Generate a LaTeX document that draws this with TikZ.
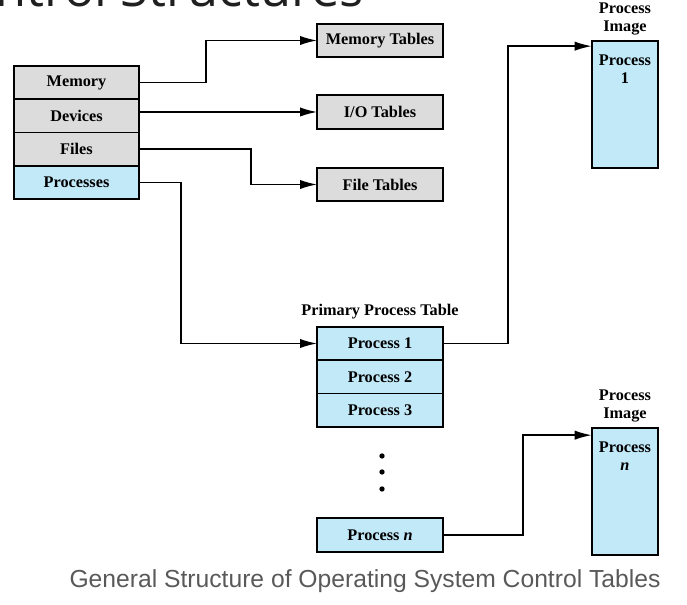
\documentclass[tikz,border=0pt]{standalone}
\usepackage{fontspec}
\setmainfont{Liberation Serif}
\newfontfamily\slidefont{Open Sans}
\newfontfamily\captionfont{Liberation Sans}
\usepackage{tikz}
\usetikzlibrary{arrows.meta}
\usetikzlibrary{positioning}
\usetikzlibrary{calc}
\definecolor{cellgray}{HTML}{DCDCDC}
\definecolor{cellblue}{HTML}{C2E9F8}
\definecolor{captiongray}{HTML}{595959}
\definecolor{titlegray}{HTML}{202020}
\tikzset{>={Latex[length=13pt,width=7pt]}}
\newcommand\cellwidth{94pt}
\newcommand\cellheight{25pt}
\tikzset{
    cell/.style={draw, line width=1.4pt, outer sep=0pt, minimum width=\cellwidth, minimum height=\cellheight, inner sep=0pt, font=\fontsize{12.2}{13.5}\selectfont\bfseries, node distance=0pt},
    graycell/.style={cell, fill=cellgray},
    bluecell/.style={cell, fill=cellblue},
    imagebox/.style={draw, line width=1.4pt, outer sep=0pt, fill=cellblue, minimum width=49.5pt, minimum height=95pt, inner sep=0pt},
    heading/.style={font=\fontsize{12.2}{14}\selectfont\bfseries, align=center, inner sep=0pt},
    link/.style={->, line width=1.4pt},
    dot/.style={circle, fill, inner sep=0pt, minimum size=4pt},
}

\begin{document}
\begin{tikzpicture}[x=0.75pt,y=-0.75pt]
    \useasboundingbox (0,0) rectangle (687,605);
    \begin{scope}
        \clip (0,0) rectangle (687,605);
        \node(title)[font=\slidefont\fontsize{38}{38}\selectfont, text=titlegray, anchor=base east, inner sep=0pt] at (364,7){Control Structures};
    \end{scope}
    \node(memory)[graycell] at (76.5,82.5){Memory};
    \node(devices)[graycell, below=of memory]{Devices};
    \node(files)[graycell, below=of devices]{Files};
    \node(processes)[bluecell, below=of files]{Processes};
    \node(memtab)[graycell] at (380,40.5){Memory Tables};
    \node(iotab)[graycell] at (380,112){I/O Tables};
    \node(filetab)[graycell] at (380,184.5){File Tables};
    \node(proc1)[bluecell] at (380,343.5){Process 1};
    \node(proc2)[bluecell, below=of proc1]{Process 2};
    \node(proc3)[bluecell, below=of proc2]{Process 3};
    \node(ptablabel)[heading, above=6pt of proc1]{Primary Process Table};
    \foreach \y [count=\i] in {456,472,489}
        \node(dot\i)[dot] at (382,\y){};
    \node(procn)[bluecell] at (380,535){Process \textit{n}};
    \node(img1)[imagebox] at (625,104.5){};
    \node(img1head)[heading, above=4pt of img1]{Process\\Image};
    \node(img1text)[heading, anchor=north] at ($(img1.north)+(0,13)$){Process\\1};
    \node(imgn)[imagebox] at (625,491.5){};
    \node(imgnhead)[heading, above=4pt of imgn]{Process\\Image};
    \node(imgntext)[heading, anchor=north] at ($(imgn.north)+(0,13)$){Process\\\textit{n}};
    \draw[link] (memory.east) -- ++(67,0) |- (memtab.west);
    \draw[link] (iotab.west -| devices.east) -- (iotab.west);
    \draw[link] (files.east) -- ++(112,0) |- (filetab.west);
    \draw[link] (processes.east) -- ++(42,0) |- (proc1.west);
    \draw[link] (proc1.east) -- ++(65,0) |- ($(img1.north west)+(0,5)$);
    \draw[link] (procn.east) -- ++(80,0) |- ($(imgn.north west)+(0,7)$);
    \node(caption)[font=\captionfont\fontsize{18.5}{20}\selectfont, text=captiongray] at (365,581){General Structure of Operating System Control Tables};
\end{tikzpicture}
\end{document}
